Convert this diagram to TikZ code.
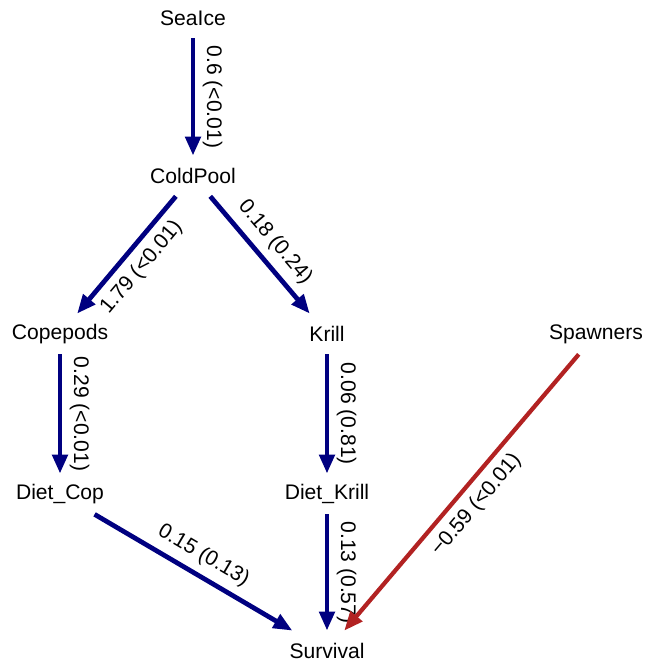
\documentclass[tikz,border=0pt]{standalone}
\usepackage{fontspec}
\setmainfont{Liberation Sans}
\usepackage{tikz}
\usetikzlibrary{arrows.meta}
\definecolor{pathblue}{RGB}{0,0,128}
\definecolor{pathred}{RGB}{178,34,34}
\tikzset{>={Triangle[length=0.38cm,width=0.3cm]}}
\tikzset{
  var/.style={rectangle, inner sep=0pt, minimum height=0.8cm, font=\fontsize{12}{14}\selectfont},
  posedge/.style={->, line width=0.095cm, color=pathblue},
  negedge/.style={->, line width=0.085cm, color=pathred},
  coef/.style={sloped, font=\fontsize{12}{14}\selectfont, text=black, inner sep=0.15cm}
}

\begin{document}
\begin{tikzpicture}
            \useasboundingbox (0,0) rectangle (12.9,13.26);

            % variables
            \node[var] (SeaIce) at (3.86, 12.9) {SeaIce};
            \node[var] (ColdPool) at (3.86, 9.74) {ColdPool};
            \node[var] (Copepods) at (1.2, 6.58) {Copepods};
            \node[var] (Krill) at (6.54, 6.58) {Krill};
            \node[var] (Spawners) at (11.92, 6.58) {Spawners};
            \node[var] (DietCop) at (1.2, 3.38) {Diet\_Cop};
            \node[var] (DietKrill) at (6.54, 3.38) {Diet\_Krill};
            \node[var] (Survival) at (6.54, 0.24) {Survival};

            % paths
            \draw[posedge] (SeaIce) -- (ColdPool) node[coef, midway, above] {0.6 (<0.01)};
            \draw[posedge] (ColdPool) -- (Copepods) node[coef, midway, below] {1.79 (<0.01)};
            \draw[posedge] (ColdPool) -- (Krill) node[coef, midway, above] {0.18 (0.24)};
            \draw[posedge] (Copepods) -- (DietCop) node[coef, midway, above] {0.29 (<0.01)};
            \draw[posedge] (Krill) -- (DietKrill) node[coef, midway, above] {0.06 (0.81)};
            \draw[posedge] (DietCop) -- (Survival) node[coef, midway, above] {0.15 (0.13)};
            \draw[posedge] (DietKrill) -- (Survival) node[coef, midway, above] {0.13 (0.57)};
            \draw[negedge] (Spawners) -- (Survival) node[coef, midway, below] {−0.59 (<0.01)};
        \end{tikzpicture}
\end{document}
